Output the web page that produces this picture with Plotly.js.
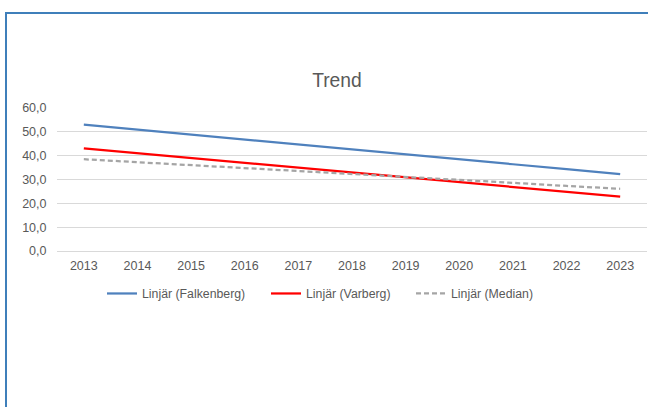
<!DOCTYPE html>
<html>
<head>
<meta charset="utf-8">
<script src="https://cdn.plot.ly/plotly-3.0.1.min.js"></script>
<style>
  html, body { margin: 0; padding: 0; background: #ffffff; }
  #wrap { position: relative; width: 648px; height: 407px; overflow: hidden; }
  #chart { position: absolute; left: 0; top: 0; width: 648px; height: 407px; }
  #frame { position: absolute; left: 5px; top: 12px; width: 700px; height: 500px;
           border-left: 2px solid #3f7fba; border-top: 2px solid #3f7fba; pointer-events: none; }
</style>
</head>
<body>
<div id="wrap">
  <div id="chart"></div>
  <div id="frame"></div>
</div>
<script>
const years = ["2013","2014","2015","2016","2017","2018","2019","2020","2021","2022","2023"];
const falkenberg = [53.0, 50.9, 48.9, 46.8, 44.8, 42.8, 40.6, 38.5, 36.4, 34.4, 32.3];
const varberg    = [43.1, 41.1, 39.0, 37.0, 35.0, 33.0, 30.9, 28.9, 26.9, 24.8, 22.8];
const median     = [38.5, 37.3, 36.0, 34.8, 33.5, 32.3, 31.1, 29.8, 28.6, 27.3, 26.1];
const seriesNames = ["Linjär (Falkenberg)", "Linjär (Varberg)", "Linjär (Median)"];
const yTicks = [0, 10, 20, 30, 40, 50, 60];

const font = "Liberation Sans, Arial, sans-serif";
const textColor = "#595959";

const traces = [
  { x: years, y: falkenberg, name: seriesNames[0], type: "scatter", mode: "lines",
    line: { color: "#4f81bd", width: 2.25 }, legend: "legend" },
  { x: years, y: varberg, name: seriesNames[1], type: "scatter", mode: "lines",
    line: { color: "#ff0000", width: 2.25 }, legend: "legend2" },
  { x: years, y: median, name: seriesNames[2], type: "scatter", mode: "lines",
    line: { color: "#a5a5a5", width: 2.25, dash: "5px,3px" }, legend: "legend3" }
];

function legendAt(px) {
  return {
    orientation: "h",
    x: (px - 57) / 590, xanchor: "left",
    y: -0.297, yanchor: "middle",
    font: { family: font, size: 12.3, color: textColor },
    itemwidth: 30,
    bgcolor: "rgba(0,0,0,0)"
  };
}

const layout = {
  width: 648, height: 407,
  margin: { l: 57, r: 1, t: 108, b: 156, pad: 0 },
  paper_bgcolor: "#ffffff",
  plot_bgcolor: "#ffffff",
  separators: ", ",
  font: { family: font, size: 12, color: textColor },
  title: { text: "Trend", font: { family: font, size: 19.3, color: textColor },
           x: 0.52, xanchor: "center", y: 0.803, yanchor: "middle", xref: "container", yref: "container" },
  xaxis: {
    type: "category",
    range: [-0.5, 10.5],
    showgrid: false,
    showline: false,
    zeroline: false,
    ticks: "outside", ticklen: 3, tickcolor: "rgba(0,0,0,0)",
    tickfont: { family: font, size: 12.5, color: textColor },
    fixedrange: true
  },
  yaxis: {
    range: [0, 60],
    tickvals: yTicks,
    tickformat: ".1f",
    showgrid: true, gridcolor: "#d9d9d9", gridwidth: 1,
    zeroline: true, zerolinecolor: "#d9d9d9", zerolinewidth: 1,
    showline: false,
    ticks: "outside", ticklen: 7, tickcolor: "rgba(0,0,0,0)",
    tickfont: { family: font, size: 12.5, color: textColor },
    fixedrange: true
  },
  showlegend: true,
  legend: legendAt(102),
  legend2: legendAt(266),
  legend3: legendAt(411),
  hovermode: false
};

Plotly.newPlot("chart", traces, layout, { staticPlot: true, displayModeBar: false });
</script>
</body>
</html>
